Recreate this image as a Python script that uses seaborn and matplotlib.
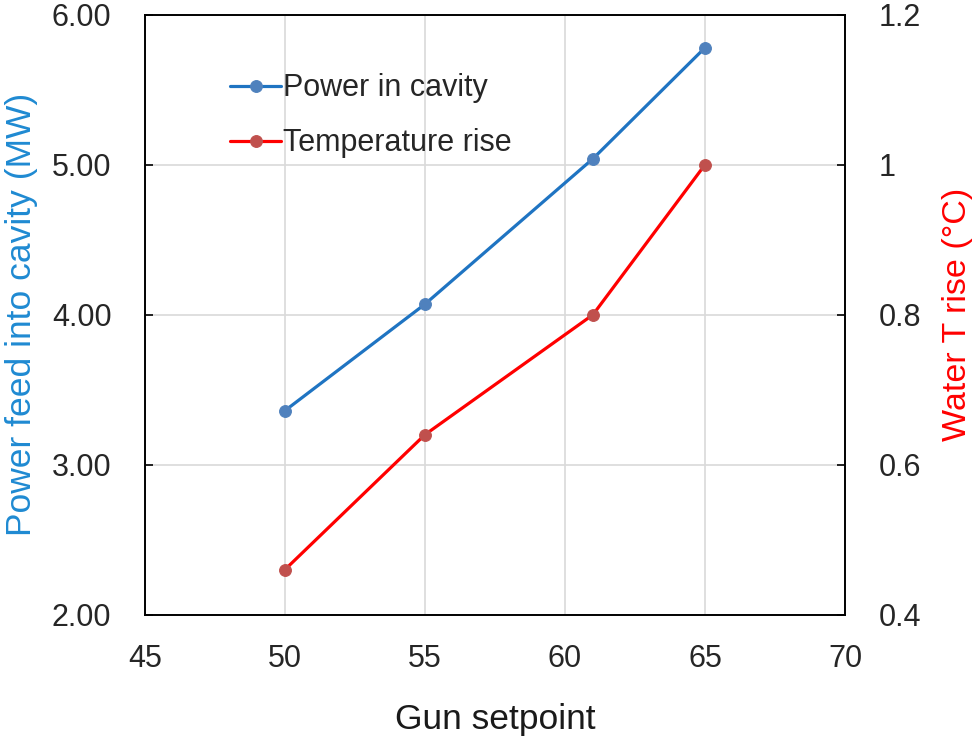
import matplotlib
matplotlib.use('Agg')
import matplotlib.pyplot as plt
import pandas as pd
import seaborn as sns

# ---- data ---- #
gun_setpoint = [50, 55, 61, 65]
power_mw = [3.36, 4.07, 5.04, 5.78]
temp_rise = [0.46, 0.64, 0.80, 1.00]

df = pd.DataFrame({'gun': gun_setpoint, 'power': power_mw, 'temp': temp_rise})

sns.set_style('white')
plt.rcParams['font.family'] = ['Liberation Sans', 'DejaVu Sans']

blue_line = '#1f74c2'
blue_mark = '#4f81bd'
red_line = '#ff0000'
red_mark = '#c0504d'

fig = plt.figure(figsize=(9.78, 7.38), dpi=100)
ax = fig.add_axes([0.148, 0.167, 0.716, 0.813])
ax2 = ax.twinx()

sns.lineplot(data=df, x='gun', y='power', ax=ax, color=blue_line, lw=2.3,
             marker='o', markersize=8.5, markerfacecolor=blue_mark,
             markeredgecolor=blue_mark, label='Power in cavity', legend=False)
sns.lineplot(data=df, x='gun', y='temp', ax=ax2, color=red_line, lw=2.3,
             marker='o', markersize=8.5, markerfacecolor=red_mark,
             markeredgecolor=red_mark, label='Temperature rise', legend=False)

# ---- axes ---- #
ax.set_xlim(45, 70)
ax.set_xticks([45, 50, 55, 60, 65, 70])
ax.set_ylim(2, 6)
ax.set_yticks([2, 3, 4, 5, 6])
ax.set_yticklabels(['2.00', '3.00', '4.00', '5.00', '6.00'])
ax2.set_ylim(0.4, 1.2)
ax2.set_yticks([0.4, 0.6, 0.8, 1.0, 1.2])
ax2.set_yticklabels(['0.4', '0.6', '0.8', '1', '1.2'])

ax.grid(True, color='#d9d9d9', lw=1.2)
ax.set_axisbelow(True)

for a in (ax, ax2):
    for s in a.spines.values():
        s.set_color('black')
        s.set_linewidth(1.2)
    a.tick_params(direction='in', length=6, width=1.2, labelsize=22,
                  colors='black', labelcolor='#262626', pad=24)
ax.tick_params(axis='x', pad=21)

ax.set_xlabel('Gun setpoint', fontsize=25.5, labelpad=21, color='#1a1a1a')
ax.set_ylabel('Power feed into cavity (MW)', fontsize=25.5, color='#1f8ad2', labelpad=10)
ax2.set_ylabel('Water T rise (\u00b0C)', fontsize=24.5, color='#ff0000', labelpad=15)

h1, l1 = ax.get_legend_handles_labels()
h2, l2 = ax2.get_legend_handles_labels()
ax.legend(h1 + h2, l1 + l2, loc='upper left', bbox_to_anchor=(0.083, 0.948),
          frameon=False, fontsize=22, handlelength=1.65, handletextpad=0.08,
          labelspacing=0.81)

fig.savefig('out.png', dpi=100)
